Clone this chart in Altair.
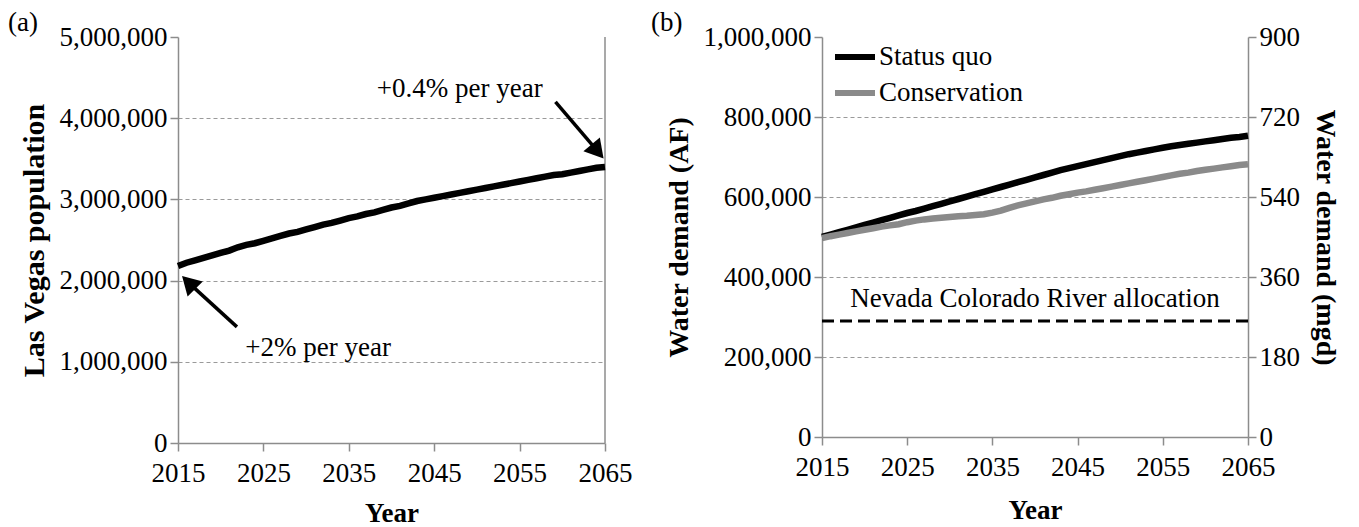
import altair as alt
import pandas as pd

# ---------------- data ----------------
years = list(range(2015, 2066))

population = [
    2180000, 2220000, 2250000, 2280000, 2310000, 2340000, 2370000, 2410000, 2440000, 2460000,
    2490000, 2520000, 2550000, 2580000, 2600000, 2630000, 2660000, 2690000, 2710000, 2740000,
    2770000, 2790000, 2820000, 2840000, 2870000, 2900000, 2920000, 2950000, 2980000, 3000000,
    3020000, 3040000, 3060000, 3080000, 3100000, 3120000, 3140000, 3160000, 3180000, 3200000,
    3220000, 3240000, 3260000, 3280000, 3300000, 3310000, 3330000, 3350000, 3370000, 3390000,
    3400000,
]

status_quo = [
    500000, 506000, 512000, 518000, 524000, 530000, 536000, 542000, 548000, 554000,
    560000, 565000, 571000, 577000, 583000, 589000, 595000, 601000, 607000, 613000,
    619000, 625000, 631000, 637000, 643000, 649000, 655000, 661000, 667000, 672000,
    677000, 682000, 687000, 692000, 697000, 702000, 707000, 711000, 715000, 719000,
    723000, 727000, 730000, 733000, 736000, 739000, 742000, 745000, 748000, 750000,
    753000,
]

conservation = [
    497000, 502000, 506000, 510000, 514000, 518000, 522000, 526000, 529000, 532000,
    537000, 541000, 544000, 546000, 548000, 550000, 552000, 553000, 555000, 557000,
    561000, 566000, 573000, 579000, 584000, 589000, 594000, 598000, 603000, 607000,
    611000, 614000, 618000, 622000, 626000, 630000, 634000, 638000, 642000, 646000,
    650000, 654000, 658000, 661000, 665000, 668000, 671000, 674000, 677000, 680000,
    682000,
]

allocation_af = 290000
year_ticks = [2015, 2025, 2035, 2045, 2055, 2065]
pop_ticks = [0, 1000000, 2000000, 3000000, 4000000, 5000000]
af_ticks = [0, 200000, 400000, 600000, 800000, 1000000]
mgd_ticks = [0, 180, 360, 540, 720, 900]
scenarios = ["Status quo", "Conservation"]

# annotations for panel (a): arrows (year, population)
arrow_text = ["+0.4% per year", "+2% per year"]
arrow_text_year = [2048.0, 2031.4]
arrow_text_pop = [4360000, 1170000]
arrow_from_year = [2059.2, 2021.9]
arrow_from_pop = [4200000, 1430000]
arrow_to_year = [2063.6, 2016.9]
arrow_to_pop = [3660000, 1910000]
head_year = [2063.9, 2016.5]
head_pop = [3620000, 1950000]
head_angle = [140, 315]

FONT = "Liberation Serif"
GRID = "#9a9a9a"
AXIS = "#8c8c8c"

pop_df = pd.DataFrame({"year": years, "pop": population})
arrows_df = pd.DataFrame({
    "x": arrow_from_year, "y": arrow_from_pop,
    "x2": arrow_to_year, "y2": arrow_to_pop,
})
heads_df = pd.DataFrame({"x": head_year, "y": head_pop, "angle": head_angle})
labels_df = pd.DataFrame({"x": arrow_text_year, "y": arrow_text_pop, "t": arrow_text})

water_df = pd.DataFrame({
    "year": years * 2,
    "af": status_quo + conservation,
    "scenario": [scenarios[0]] * len(years) + [scenarios[1]] * len(years),
})
mgd_df = pd.DataFrame({"mgd": [0, 900]})
one_row = pd.DataFrame({"k": [0]})

grid_expr = "datum.value > 0 && datum.value < {} ? 1 : 0"

xscale = alt.Scale(domain=[2015, 2065], nice=False, zero=False)

LABEL_SIZE = 27


def common(title_size):
    return dict(
        domainColor=AXIS, tickColor=AXIS, tickSize=8, domainWidth=1.5, tickWidth=1.5,
        labelFont=FONT, labelFontSize=LABEL_SIZE, labelColor="black",
        titleFont=FONT, titleFontSize=title_size, titleFontWeight="bold",
        titleColor="black",
    )


def x_axis(title_pad):
    return alt.Axis(values=year_ticks, format="d", title="Year", grid=False,
                    labelFlush=False, labelOverlap=False,
                    labelPadding=9, titlePadding=title_pad, **common(27))


def y_axis(vals, title, top, title_size):
    return alt.Axis(values=vals, format=",d", title=title,
                    grid=True, gridDash=[4, 3], gridColor=GRID, gridWidth=1.2,
                    gridOpacity=alt.ExprRef(grid_expr.format(top)),
                    labelOverlap=False, labelPadding=3, titlePadding=10,
                    **common(title_size))


# ---------------- panel (a) ----------------
ya = alt.Scale(domain=[0, 5000000], nice=False)

pop_line = alt.Chart(pop_df).mark_line(color="black", strokeWidth=6.5).encode(
    x=alt.X("year:Q", scale=xscale, axis=x_axis(14)),
    y=alt.Y("pop:Q", scale=ya,
            axis=y_axis(pop_ticks, "Las Vegas population", 5000000, 30)),
)
right_border_a = alt.Chart(one_row).mark_rule(color=AXIS, strokeWidth=1.5).encode(
    x=alt.datum(2065), y=alt.datum(0), y2=alt.datum(5000000)
)
arrow_lines = alt.Chart(arrows_df).mark_rule(color="black", strokeWidth=3.5).encode(
    x="x:Q", y="y:Q", x2="x2:Q", y2="y2:Q"
)
arrow_heads = alt.Chart(heads_df).mark_point(
    shape="triangle", filled=True, color="black", opacity=1, size=460
).encode(x="x:Q", y="y:Q", angle=alt.Angle("angle:Q", scale=None))
arrow_labels = alt.Chart(labels_df).mark_text(
    font=FONT, fontSize=27, color="black"
).encode(x="x:Q", y="y:Q", text="t:N")
tag_a = alt.Chart(one_row).mark_text(
    text="(a)", font=FONT, fontSize=27, fontWeight="normal", align="left",
    baseline="middle"
).encode(x=alt.value(-170), y=alt.value(-14))

panel_a = alt.layer(
    right_border_a, pop_line, arrow_lines, arrow_heads, arrow_labels, tag_a
).properties(width=427, height=406)

# ---------------- panel (b) ----------------
yb = alt.Scale(domain=[0, 1000000], nice=False)

water_lines = alt.Chart(water_df).mark_line(strokeWidth=6.5).encode(
    x=alt.X("year:Q", scale=xscale, axis=x_axis(17)),
    y=alt.Y("af:Q", scale=yb,
            axis=y_axis(af_ticks, "Water demand (AF)", 1000000, 28)),
    color=alt.Color(
        "scenario:N",
        scale=alt.Scale(domain=scenarios, range=["black", "#8a8a8a"]),
        legend=alt.Legend(
            title=None, orient="none", legendX=10, legendY=-3,
            symbolType="stroke", symbolSize=1600, symbolStrokeWidth=6,
            labelFont=FONT, labelFontSize=27, labelColor="black",
            labelOffset=1, rowPadding=0, padding=0,
        ),
    ),
    detail="scenario:N",
)
alloc_rule = alt.Chart(one_row).mark_rule(
    color="black", strokeWidth=3, strokeDash=[12, 6]
).encode(y=alt.datum(allocation_af), x=alt.datum(2015), x2=alt.datum(2065))
alloc_text = alt.Chart(one_row).mark_text(
    text="Nevada Colorado River allocation", font=FONT, fontSize=27, color="black"
).encode(x=alt.datum(2040), y=alt.datum(345000))
tag_b = alt.Chart(one_row).mark_text(
    text="(b)", font=FONT, fontSize=27, fontWeight="normal", align="left",
    baseline="middle"
).encode(x=alt.value(-171), y=alt.value(-14))

left_b = alt.layer(water_lines, alloc_rule, alloc_text, tag_b)

right_axis = alt.Chart(mgd_df).mark_rule(opacity=0).encode(
    y=alt.Y("mgd:Q", scale=alt.Scale(domain=[0, 900], nice=False),
            axis=alt.Axis(orient="right", values=mgd_ticks, format="d",
                          title="Water demand (mgd)", grid=False,
                          labelOverlap=False, labelPadding=3, titlePadding=11,
                          **common(28)))
)

panel_b = alt.layer(left_b, right_axis).resolve_scale(y="independent").properties(
    width=426, height=400
)

chart = alt.hconcat(panel_a, panel_b, spacing=19).resolve_scale(
    color="independent"
).resolve_legend(color="independent").properties(
    padding={"left": 0, "top": 1, "right": 4, "bottom": 0}
).configure(
    font=FONT
).configure_view(stroke=None).configure_text(font=FONT)

chart.save("out.html", embed_options={"renderer": "svg", "actions": False})
